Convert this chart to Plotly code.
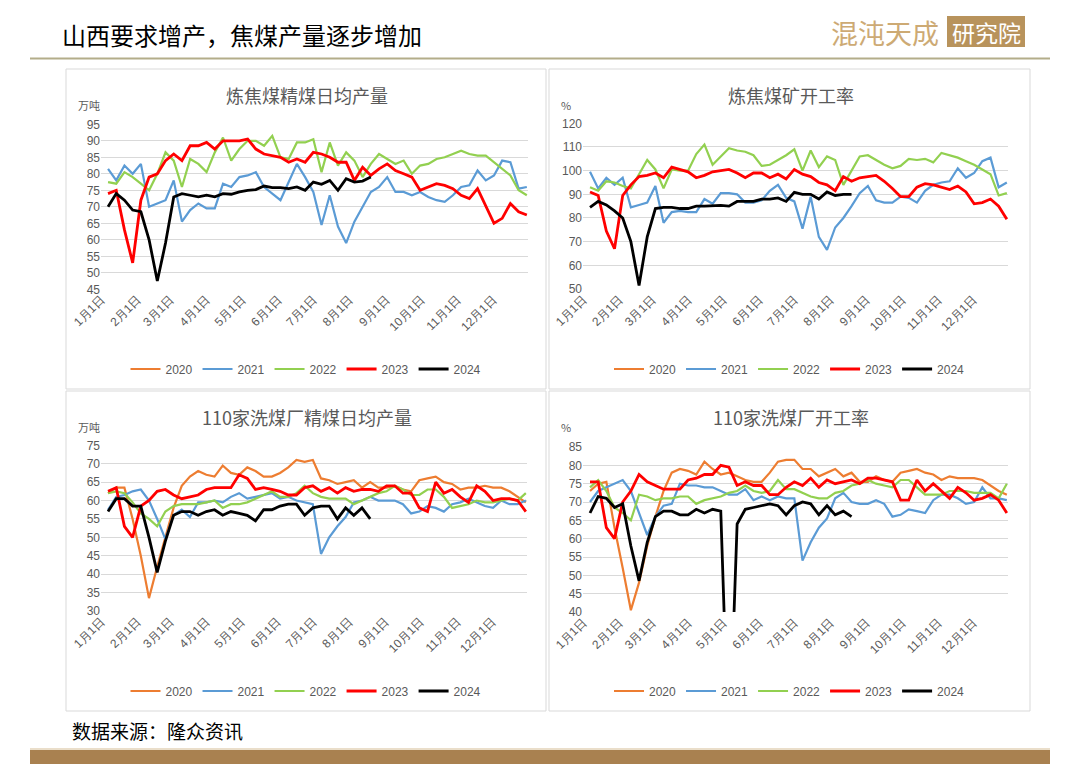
import pandas as pd
import plotly.graph_objects as go

W, H = 1080, 764

# weekly points, drawn on a common Jan-Dec axis (dummy year)
weeks = pd.date_range("2021-01-07", periods=52, freq="7D")
month_ticks = pd.date_range("2021-01-01", periods=12, freq="MS")
month_labels = [f"{m}月1日" for m in range(1, 13)]
years = ["2020", "2021", "2022", "2023", "2024"]
colors = {"2020": "#ED7D31", "2021": "#5B9BD5", "2022": "#92D050",
          "2023": "#FF0000", "2024": "#000000"}

# 炼焦煤精煤日均产量 (万吨)
p1_2021 = [81.5, 78, 82.5, 80, 83, 70, 71, 72, 78, 65.5,
           69, 71, 69.5, 69.5, 77, 76, 79, 79.5, 80.5, 76,
           74, 72, 77.5, 83, 79, 74.5, 64.5, 73.5, 64, 59,
           65.5, 70, 74.5, 76, 79, 74.5, 74.5, 73.5, 74.5, 73,
           72, 71.5, 73.5, 76, 76.5, 81, 78, 79.5, 84, 83.5,
           75.5, 76]
p1_2022 = [77.5, 77, 80.5, 79, 77, 75, 80, 86.5, 84, 76,
           84.5, 83, 80.5, 86.5, 91, 84, 87.5, 90, 90, 88.5,
           91.5, 85, 84.5, 89.5, 89.5, 90.5, 80.5, 89.5, 82.5, 86.5,
           84, 79, 83, 86, 84.5, 83, 84, 80, 82.5, 83,
           84.5, 85, 86, 87, 86, 85.5, 85.5, 83.5, 81.5, 79.5,
           75, 73.5]
p1_2023 = [74, 75, 63, 53, 72, 79, 80, 84, 86, 84,
           88.5, 88.5, 89.5, 87.5, 90, 90, 90, 90.5, 87.5, 86,
           85.5, 85, 83.5, 84.5, 83.5, 86.5, 86, 85, 83.5, 83.5,
           78, 82, 79.5, 81.5, 83, 81, 80, 79, 75, 76,
           77, 76.5, 75.5, 73.5, 72.5, 75.5, 70, 65, 66.5, 71,
           68.5, 67.5]
p1_2024 = [70, 74, 72, 69, 68.5, 60, 47.5, 59, 73, 74,
           73.5, 73, 73.5, 73, 74, 73.8, 74.5, 75, 75.2, 76.3,
           75.8, 75.8, 75.5, 76, 75, 77.5, 76.8, 78, 75, 78.5,
           77.5, 77.8, 79]

# 炼焦煤矿开工率 (%)
p2_2021 = [99.5, 92.5, 97, 94, 97, 84.5, 85.5, 86.5, 93.5, 78,
           82.5, 83, 82.5, 82.5, 88, 86, 90.5, 90.5, 90, 86.5,
           86.5, 87.5, 91.5, 94, 88.5, 87, 75.5, 89, 72, 66.5,
           76, 80, 85, 90.5, 93.5, 87.5, 86.5, 86.5, 89, 88.5,
           86.5, 91.5, 94, 95, 95.5, 101, 97, 99, 104, 105.5,
           93, 95]
p2_2022 = [93, 91.5, 95.5, 95, 93.5, 92.5, 98.5, 104.5, 100.5, 92.5,
           100.5, 100, 100, 107, 111, 102.5, 106, 109.5, 108.5, 108,
           106.5, 102, 102.5, 104.5, 106.5, 109, 100, 108.5, 101.5, 106,
           104.5, 94, 100, 106, 106.5, 104.5, 102.5, 101, 102, 105,
           104.5, 105, 103.5, 107.5, 106.5, 105.5, 104, 102.5, 100.5, 98.5,
           89.5, 90.5]
p2_2023 = [91, 89.5, 74.5, 67, 89.5, 94, 97.5, 98, 99, 97,
           101.5, 100.5, 99.5, 97, 98, 99.5, 100, 100.5, 99, 97,
           99, 99, 97, 98.5, 96.5, 100.5, 98.5, 97.5, 95, 94,
           91.5, 97.5, 95.5, 97, 97.5, 98, 95.5, 92.5, 89, 89,
           93, 94.5, 94, 93, 92, 93.5, 91, 86, 86.5, 88,
           85, 79.5]
p2_2024 = [84.5, 87, 85.5, 83, 80, 70, 51.5, 72, 84, 84.5,
           84.5, 84, 84, 85, 85, 85.3, 85.3, 85, 87, 87,
           87, 88, 88, 88.5, 87, 90.8, 90, 90, 88, 91,
           89.5, 90, 90]

# 110家洗煤厂精煤日均产量 (万吨)
p3_2020 = [62, 63.5, 63.5, 55, 45, 33.5, 42, 50, 58, 64,
           66.5, 68, 67, 66.5, 69.5, 67.5, 67, 69, 68, 66.5,
           66.5, 67.5, 69, 71, 70.5, 71, 66, 65.5, 64.5, 65,
           65.5, 63.5, 65, 63.5, 63.5, 64, 63, 62.5, 65.5, 66,
           66.5, 65, 64.5, 63, 63.5, 63.5, 64, 63.5, 63.5, 62.5,
           61, 59.5]
p3_2021 = [57.5, 61, 61.5, 62.5, 63, 60, 55, 49.5, 56, 57.5,
           55.5, 59.5, 59.5, 60, 59.5, 61, 62, 60.5, 61, 61.5,
           62, 60.5, 61, 60, 59.5, 59, 45.5, 50, 53, 55.5,
           59.5, 60, 61, 60, 60, 60, 59, 56.5, 57, 58.5,
           58, 57, 59, 59.5, 60.5, 59.5, 58.5, 58, 60, 59,
           59, 60]
p3_2022 = [62, 62.5, 62, 59.5, 56.5, 55, 53, 57, 58.5, 59,
           59, 59, 59.5, 60, 58, 59, 59, 59.5, 60.5, 61.5,
           62.5, 61, 61, 62, 64, 62, 61, 60.5, 60.5, 60.5,
           59, 60, 61, 62, 62.5, 64, 63, 61.5, 61.5, 63,
           63, 61, 58, 58.5, 59, 60, 59.5, 59.5, 60, 60.5,
           60, 62]
p3_2023 = [62.5, 63.5, 53, 50, 58.5, 60, 62.5, 63, 61.5, 60.5,
           61, 61.5, 63, 63.5, 63.5, 63.5, 67, 66, 63, 63.5,
           63, 62.5, 61.5, 61.5, 63.5, 64, 62.5, 63.5, 62, 63.5,
           62.5, 63, 63, 62.5, 64, 64, 62, 62, 58, 57,
           65, 62, 63, 61, 59.5, 64, 62.5, 60, 60.5, 60.5,
           60, 57]
p3_2024 = [57, 60.5, 60.5, 58.5, 58.5, 50, 40.5, 49, 56, 57,
           57, 56, 57, 57.5, 56, 57, 56.5, 56, 54.5, 57.5,
           57.5, 58.5, 59, 59, 56, 58, 58.5, 58.5, 55, 58,
           56, 58, 55]

# 110家洗煤厂开工率 (%)
p4_2020 = [73, 75, 75.5, 63, 52, 40.5, 48, 58, 66, 73,
           78, 79, 78.5, 77.5, 81, 79, 77.5, 78, 77, 76,
           75.5, 75.5, 78, 81, 81.5, 81.5, 79, 79, 77, 78,
           79, 77, 78, 75.5, 75.5, 77, 76, 75.5, 78, 78.5,
           79, 78, 77.5, 76, 77, 76.5, 76.5, 76.5, 76, 74.5,
           73, 72]
p4_2021 = [70, 73, 74, 75, 76, 73, 67, 61, 66, 69,
           69.5, 75, 74.5, 74.5, 74, 74, 73, 72, 72, 73.5,
           70.5, 71.5, 70.5, 71.5, 71, 71, 54, 59, 63, 65.5,
           71, 72.5, 70, 69.5, 69.5, 70.5, 69.5, 66, 66.5, 68,
           67.5, 67, 70.5, 72, 72, 71, 69.5, 70, 74, 71,
           71, 70.5]
p4_2022 = [74, 76, 73, 68.5, 67, 65, 72, 71.5, 70.5, 71,
           71, 71.5, 71.5, 69.5, 70.5, 71, 71.5, 72.5, 73, 74.5,
           73, 72.5, 73, 76, 73.5, 73.5, 72.5, 71.5, 71, 71,
           72.5, 73, 74.5, 75, 76, 75, 74.5, 74, 76, 76,
           74, 72, 72, 72, 73, 73, 73, 72.5, 72.5, 72.5,
           71, 75]
p4_2023 = [75.5, 75.5, 63, 60, 70, 73, 77.5, 75.5, 74.5, 73.5,
           73.5, 73.5, 76, 76.5, 77.5, 77.5, 80, 79.5, 74.5, 75.5,
           74.5, 74.5, 72, 72, 74, 75.5, 74.5, 76.5, 74, 76,
           75, 75.5, 76, 75, 76.5, 76.5, 76, 75.5, 70.5, 70.5,
           76, 73, 75, 73, 71, 74, 72.5, 70.5, 71, 72,
           70.5, 67]
p4_2024 = [67, 71.5, 71, 68.5, 69.5, 58, 48.5, 59, 66, 67.5,
           67.5, 66.5, 66.5, 68, 67, 68, 67.5, 0, 64, 68,
           68.5, 69, 69.5, 69, 66.5, 69, 70, 69.5, 66.5, 69,
           66.5, 67.5, 66]

panels = [
    {"title": "炼焦煤精煤日均产量", "unit": "万吨", "range": [45, 95], "dtick": 5,
     "box": [66, 69, 546, 389], "plot": [101, 124.3, 528, 289.3],
     "series": {"2020": None, "2021": p1_2021, "2022": p1_2022, "2023": p1_2023, "2024": p1_2024}},
    {"title": "炼焦煤矿开工率", "unit": "%", "range": [50, 120], "dtick": 10,
     "box": [549, 69, 1030, 389], "plot": [583, 123.3, 1008, 289],
     "series": {"2020": None, "2021": p2_2021, "2022": p2_2022, "2023": p2_2023, "2024": p2_2024}},
    {"title": "110家洗煤厂精煤日均产量", "unit": "万吨", "range": [30, 75], "dtick": 5,
     "box": [66, 391, 546, 711], "plot": [101, 445.3, 527, 611],
     "series": {"2020": p3_2020, "2021": p3_2021, "2022": p3_2022, "2023": p3_2023, "2024": p3_2024}},
    {"title": "110家洗煤厂开工率", "unit": "%", "range": [40, 85], "dtick": 5,
     "box": [549, 391, 1030, 711], "plot": [583, 447, 1008, 612],
     "series": {"2020": p4_2020, "2021": p4_2021, "2022": p4_2022, "2023": p4_2023, "2024": p4_2024}},
]


def fx(x):
    return x / W


def fy(y):
    return 1 - y / H


fig = go.Figure()
layout = {}
shapes = []
annotations = []
tick_font = dict(family="Liberation Sans, Arial", size=12, color="#595959")

for k, p in enumerate(panels):
    n = "" if k == 0 else str(k + 1)
    lg = "legend" if k == 0 else f"legend{k + 1}"
    x0, y0, x1, y1 = p["plot"]
    for yr in years:
        vals = p["series"][yr]
        if vals is None:
            xs, ys = [None], [None]
        else:
            xs, ys = weeks[:len(vals)], vals
        fig.add_trace(go.Scatter(
            x=xs, y=ys, mode="lines", name=yr, legend=lg,
            xaxis="x" + n, yaxis="y" + n,
            line=dict(color=colors[yr], width=2.8 if yr in ("2023", "2024") else 2.2),
        ))
    layout["xaxis" + n] = dict(
        domain=[fx(x0), fx(x1)], anchor="y" + n, type="date",
        range=["2021-01-01", "2021-12-31"], automargin=False,
        tickvals=month_ticks, ticktext=month_labels, tickangle=-45,
        showgrid=False, showline=False, ticks="", tickfont=tick_font,
    )
    layout["yaxis" + n] = dict(
        domain=[fy(y1), fy(y0)], anchor="x" + n, range=p["range"], dtick=p["dtick"],
        showgrid=True, gridcolor="#D9D9D9", gridwidth=1, zeroline=False,
        showline=False, ticks="", tickfont=tick_font, automargin=False,
    )
    bx0, by0, bx1, by1 = p["box"]
    layout[lg] = dict(
        orientation="h", x=fx((bx0 + bx1) / 2), y=fy(by1 - 20),
        xanchor="center", yanchor="middle", bgcolor="rgba(0,0,0,0)",
        font=dict(family="Liberation Sans, Arial", size=12, color="#595959"),
        itemwidth=30, tracegroupgap=0,
    )
    shapes.append(dict(type="rect", xref="paper", yref="paper",
                       x0=fx(bx0), x1=fx(bx1), y0=fy(by1), y1=fy(by0),
                       line=dict(color="#D9D9D9", width=1), fillcolor="rgba(0,0,0,0)"))
    annotations.append(dict(text=p["title"], xref="paper", yref="paper",
                            x=fx((bx0 + bx1) / 2 + 1), y=fy(by0 + 26), showarrow=False,
                            xanchor="center", yanchor="middle",
                            font=dict(family="Noto Sans CJK SC", size=18, color="#595959")))
    annotations.append(dict(text=p["unit"], xref="paper", yref="paper",
                            x=fx(bx0 + 10), y=fy(by0 + 36), showarrow=False,
                            xanchor="left", yanchor="middle",
                            font=dict(family="Noto Sans CJK SC", size=11, color="#595959")))

# header, logo, footer
shapes.append(dict(type="line", xref="paper", yref="paper",
                   x0=fx(30), x1=fx(1050), y0=fy(58.5), y1=fy(58.5),
                   line=dict(color="#B3AD8A", width=2)))
shapes.append(dict(type="rect", xref="paper", yref="paper",
                   x0=fx(947), x1=fx(1025), y0=fy(47), y1=fy(16),
                   line=dict(width=0), fillcolor="#B8935C"))
shapes.append(dict(type="rect", xref="paper", yref="paper",
                   x0=fx(30), x1=fx(1050), y0=fy(764), y1=fy(750),
                   line=dict(width=0), fillcolor="#A98150"))
shapes.append(dict(type="line", xref="paper", yref="paper",
                   x0=fx(30), x1=fx(1050), y0=fy(749), y1=fy(749),
                   line=dict(color="#E3D3B8", width=1.5)))
annotations += [
    dict(text="山西要求增产，焦煤产量逐步增加", xref="paper", yref="paper",
         x=fx(60), y=fy(35), xanchor="left", yanchor="middle", showarrow=False,
         font=dict(family="Noto Sans CJK SC", size=24, color="#000000")),
    dict(text="混沌天成", xref="paper", yref="paper",
         x=fx(829), y=fy(32), xanchor="left", yanchor="middle", showarrow=False,
         font=dict(family="Noto Sans CJK SC", size=27, color="#CDAA74")),
    dict(text="研究院", xref="paper", yref="paper",
         x=fx(986), y=fy(32), xanchor="center", yanchor="middle", showarrow=False,
         font=dict(family="Noto Sans CJK SC", size=23, color="#FFFFFF")),
    dict(text="数据来源：隆众资讯", xref="paper", yref="paper",
         x=fx(70), y=fy(730), xanchor="left", yanchor="middle", showarrow=False,
         font=dict(family="Noto Sans CJK SC", size=19, color="#000000")),
]

fig.update_layout(
    width=W, height=H, margin=dict(l=0, r=0, t=0, b=0, autoexpand=False),
    paper_bgcolor="#FFFFFF", plot_bgcolor="#FFFFFF",
    showlegend=True, shapes=shapes, annotations=annotations, **layout,
)
# drop the browser's default page margin so the figure fills the window
fig.write_html("out.html", config={"displayModeBar": False},
               post_script="document.body.style.margin='0';")
